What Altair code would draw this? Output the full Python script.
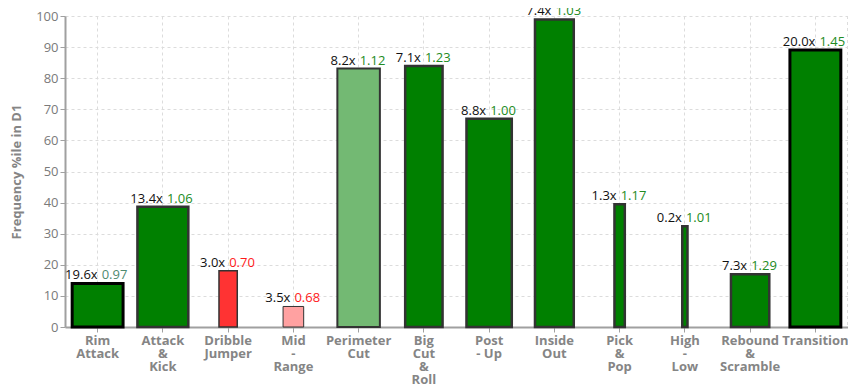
import altair as alt
import pandas as pd

categories = ["Rim|Attack", "Attack|&|Kick", "Dribble|Jumper", "Mid|-|Range",
              "Perimeter|Cut", "Big|Cut|&|Roll", "Post|- Up", "Inside|Out",
              "Pick|&|Pop", "High|-|Low", "Rebound|&|Scramble", "Transition"]
pctile = [14.0, 38.7, 18.1, 6.6, 83.1, 83.9, 67.0, 98.9, 39.5, 32.4, 17.0, 89.1]
freq = [19.6, 13.4, 3.0, 3.5, 8.2, 7.1, 8.8, 7.4, 1.3, 0.2, 7.3, 20.0]
eff = [0.97, 1.06, 0.70, 0.68, 1.12, 1.23, 1.00, 1.03, 1.17, 1.01, 1.29, 1.45]
tier = ["top", "high", "low", "weak", "mid", "high", "high", "high",
        "high", "high", "high", "top"]
y_ticks = list(range(0, 101, 10))

df = pd.DataFrame({
    "cat": categories, "pct": pctile, "freq": freq, "eff": eff, "tier": tier,
})
df["flab"] = [f"{v:.1f}x" for v in freq]
df["elab"] = [f"{v:.2f}" for v in eff]
df["big"] = [v >= 10 for v in freq]

FONT = "Segoe UI, Open Sans, sans-serif"

x_enc = alt.X("cat:N", sort=categories,
              scale=alt.Scale(paddingInner=0, paddingOuter=0),
              axis=alt.Axis(title=None, labelAngle=0, bandPosition=0.5,
                            labelExpr="split(datum.label, '|')",
                            labelFontWeight="bold", labelColor="#858585",
                            labelFontSize=13, labelLineHeight=13,
                            labelPadding=2, tickSize=5, tickColor="#a0a0a0",
                            domainColor="#a0a0a0", domainWidth=2,
                            grid=True, gridDash=[3, 3], gridColor="#dcdcdc",
                            labelFont=FONT, labelOverlap=False))
y_enc = alt.Y("pct:Q", scale=alt.Scale(domain=[0, 100], nice=False),
              axis=alt.Axis(title="Frequency %ile in D1", values=y_ticks,
                            labelOverlap=False,
                            titleFontWeight="bold", titleColor="#858585",
                            titleFontSize=13, titleFont=FONT,
                            titleX=-49, titleBaseline="middle",
                            labelColor="#7a7a7a", labelFontSize=13, labelFont=FONT,
                            labelPadding=2, tickSize=5, tickColor="#a0a0a0",
                            domainColor="#a0a0a0", domainWidth=2,
                            grid=True, gridDash=[3, 3], gridColor="#dcdcdc"))

tiers = ["top", "high", "mid", "low", "weak"]
bars = alt.Chart(df).mark_bar().encode(
    x=x_enc, y=y_enc,
    size=alt.Size("freq:Q", scale=alt.Scale(domain=[0, 10], range=[4.3, 50.9],
                                            clamp=True, zero=False), legend=None),
    color=alt.Color("tier:N", scale=alt.Scale(domain=tiers,
                    range=["#008000", "#008000", "#73b973", "#ff3333", "#ffa1a1"]),
                    legend=None),
    stroke=alt.Stroke("tier:N", scale=alt.Scale(domain=tiers,
                      range=["#000000", "#333333", "#333333", "#333333", "#333333"]),
                      legend=None),
    strokeWidth=alt.StrokeWidth("tier:N", scale=alt.Scale(domain=tiers,
                                range=[3, 1, 1, 1, 1]), legend=None),
)

edge = alt.Chart(df).mark_rule(color="#dcdcdc", strokeDash=[3, 3]).encode(
    x=alt.value(783), y=alt.value(0), y2=alt.value(311))

eff_color = alt.Color("eff:Q", scale=alt.Scale(type="threshold", domain=[0.8, 1.0],
                      range=["#ff1a1a", "#4f8a6f", "#228b22"]), legend=None)


def labels(is_big, dx_left, dx_right):
    base = alt.Chart(df).transform_filter(f"datum.big == {str(is_big).lower()}")
    left = base.mark_text(align="right", baseline="bottom", dy=-1, dx=dx_left,
                          fontSize=13, font=FONT, color="#111111").encode(
        x=x_enc, y=y_enc, text="flab:N")
    right = base.mark_text(align="left", baseline="bottom", dy=-1, dx=dx_right,
                           fontSize=13, font=FONT).encode(
        x=x_enc, y=y_enc, text="elab:N", color=eff_color)
    return left + right


chart = alt.layer(
    edge,
    bars,
    labels(True, 0, 4),
    labels(False, -3, 1),
).resolve_scale(color="independent").properties(
    width=783, height=311,
    padding={"left": 57, "top": 8, "right": 0, "bottom": 60},
    autosize=alt.AutoSizeParams(type="none"),
).configure_view(stroke=None).configure_axis(labelFont=FONT)

chart.save("out.html", embed_options={"renderer": "svg", "actions": False})
